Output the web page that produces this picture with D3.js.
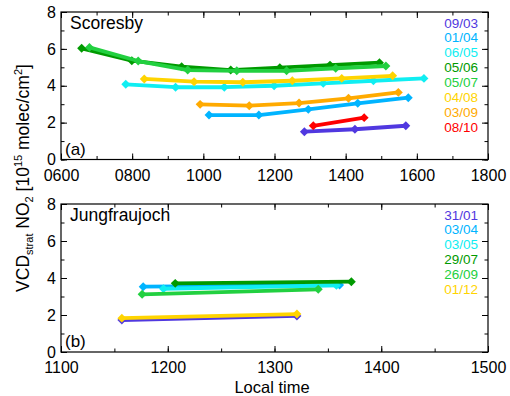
<!DOCTYPE html>
<html>
<head>
<meta charset="utf-8">
<script src="https://cdn.jsdelivr.net/npm/d3@7"></script>
<style>
  html, body { margin: 0; padding: 0; background: #fff; }
  svg { display: block; font-family: "Liberation Sans", Arial, Helvetica, sans-serif; }
</style>
</head>
<body>
<svg id="chart" width="510" height="396"></svg>
<script>
// Stratospheric NO2 vertical column vs. local time, two stations.

// --- Scoresby (panel a) ---
const scoresbyDates = ["09/03", "01/04", "06/05", "05/06", "05/07", "04/08", "03/09", "08/10"];
const scoresbyColors = ["#5038e0", "#00b4ff", "#10eef2", "#009a00", "#22d040", "#ffd400", "#ffaa00", "#ff0000"];
const scoresbyTimes = [
  [1284, 1426, 1569],
  [1016, 1156, 1295, 1434, 1576],
  [782, 922, 1059, 1199, 1337, 1478, 1620],
  [658, 799, 939, 1077, 1215, 1356, 1495],
  [680, 817, 956, 1094, 1234, 1372, 1513],
  [834, 974, 1111, 1250, 1389, 1532],
  [991, 1129, 1269, 1408, 1548],
  [1309, 1452]
];
const scoresbyVcd = [
  [1.51, 1.64, 1.83],
  [2.41, 2.41, 2.72, 3.05, 3.35],
  [4.08, 3.92, 3.92, 4.00, 4.13, 4.27, 4.40],
  [6.03, 5.36, 5.03, 4.85, 4.98, 5.12, 5.25],
  [6.08, 5.34, 4.85, 4.81, 4.81, 4.95, 5.07],
  [4.37, 4.22, 4.19, 4.27, 4.40, 4.54],
  [2.99, 2.92, 3.06, 3.32, 3.64],
  [1.83, 2.27]
];

// --- Jungfraujoch (panel b) ---
const jungDates = ["31/01", "03/04", "03/05", "29/07", "26/09", "01/12"];
const jungColors = ["#5038e0", "#00b4ff", "#10eef2", "#009a00", "#22d040", "#ffd400"];
const jungTimes = [
  [1157, 1321],
  [1177, 1361],
  [1196, 1358],
  [1207, 1372],
  [1176, 1341],
  [1157, 1321]
];
const jungVcd = [
  [1.73, 1.95],
  [3.53, 3.62],
  [3.42, 3.60],
  [3.71, 3.80],
  [3.12, 3.39],
  [1.83, 2.05]
];

// axis tick values
const yTicks = [0, 2, 4, 6, 8];
const scoresbyXTicks = [600, 800, 1000, 1200, 1400, 1600, 1800];
const jungXTicks = [1100, 1200, 1300, 1400, 1500];

const svg = d3.select("#chart");
const fmtTime = d3.format("04d");
const FONT = "Liberation Sans, Arial, sans-serif";

function drawPanel(opts) {
  const x = d3.scaleLinear().domain(opts.xDomain).range([61, 488]);
  const y = d3.scaleLinear().domain([0, 8]).range([opts.bottom, opts.top]);
  const g = svg.append("g");

  // frame
  g.append("rect")
    .attr("x", 61).attr("y", opts.top)
    .attr("width", 488 - 61).attr("height", opts.bottom - opts.top)
    .attr("fill", "none").attr("stroke", "#000").attr("stroke-width", 1.2);

  const majorLen = 6, minorLen = 3.5;

  function ticks(axisFn, scale, tv, len, transform) {
    const a = axisFn(scale).tickValues(tv).tickSizeInner(-len).tickSizeOuter(0).tickFormat("");
    const ag = g.append("g").attr("transform", transform).call(a);
    ag.select(".domain").remove();
    ag.selectAll(".tick line").attr("stroke", "#000").attr("stroke-width", 1);
  }

  // minor ticks on all four sides
  const xMinor = d3.range(opts.xDomain[0], opts.xDomain[1] + 1, opts.xMinorStep);
  const yMinor = d3.range(0, 9, 1);
  ticks(d3.axisBottom, x, xMinor, minorLen, `translate(0,${opts.bottom})`);
  ticks(d3.axisTop, x, xMinor, minorLen, `translate(0,${opts.top})`);
  ticks(d3.axisLeft, y, yMinor, minorLen, `translate(61,0)`);
  ticks(d3.axisRight, y, yMinor, minorLen, `translate(488,0)`);

  // major ticks, labelled on bottom and left
  const bx = d3.axisBottom(x).tickValues(opts.xTicks).tickSizeInner(-majorLen).tickSizeOuter(0)
    .tickPadding(10).tickFormat(fmtTime);
  const bxg = g.append("g").attr("transform", `translate(0,${opts.bottom})`).call(bx);
  bxg.select(".domain").remove();
  bxg.selectAll(".tick line").attr("stroke", "#000");
  bxg.selectAll("text").attr("font-size", 16).attr("fill", "#000").style("font-family", FONT);

  ticks(d3.axisTop, x, opts.xTicks, majorLen, `translate(0,${opts.top})`);

  const ly = d3.axisLeft(y).tickValues(yTicks).tickSizeInner(-majorLen).tickSizeOuter(0)
    .tickPadding(5).tickFormat(d3.format("d"));
  const lyg = g.append("g").attr("transform", "translate(61,0)").call(ly);
  lyg.select(".domain").remove();
  lyg.selectAll(".tick line").attr("stroke", "#000");
  lyg.selectAll("text").attr("font-size", 16).attr("fill", "#000").style("font-family", FONT);

  ticks(d3.axisRight, y, yTicks, majorLen, `translate(488,0)`);

  // series: thick line plus diamond markers
  const line = d3.line().x(d => x(d[0])).y(d => y(d[1]));
  const diamond = d3.symbol().type(d3.symbolSquare).size(40);
  opts.times.forEach((ts, i) => {
    const pts = ts.map((t, j) => [t, opts.values[i][j]]);
    const sg = g.append("g");
    sg.append("path").datum(pts)
      .attr("d", line)
      .attr("fill", "none")
      .attr("stroke", opts.colors[i])
      .attr("stroke-width", 3.8)
      .attr("stroke-linejoin", "round");
    sg.selectAll("path.pt").data(pts).enter().append("path")
      .attr("class", "pt")
      .attr("d", diamond)
      .attr("transform", d => `translate(${x(d[0])},${y(d[1])}) rotate(45)`)
      .attr("fill", opts.colors[i]);
  });

  // legend
  opts.dates.forEach((d, i) => {
    g.append("text")
      .attr("x", 478).attr("y", opts.top + 15.5 + i * 14.9)
      .attr("text-anchor", "end")
      .attr("font-size", 13.5)
      .attr("fill", opts.colors[i])
      .text(d);
  });

  // station name and panel tag
  g.append("text").attr("x", 70).attr("y", opts.top + 17)
    .attr("font-size", 17.5).attr("fill", "#000").text(opts.name);
  g.append("text").attr("x", 65).attr("y", opts.bottom - 5)
    .attr("font-size", 17).attr("fill", "#000").text(opts.tag);
}

drawPanel({
  name: "Scoresby", tag: "(a)",
  top: 12, bottom: 159.5,
  xDomain: [600, 1800], xTicks: scoresbyXTicks, xMinorStep: 100,
  times: scoresbyTimes, values: scoresbyVcd, colors: scoresbyColors, dates: scoresbyDates
});

drawPanel({
  name: "Jungfraujoch", tag: "(b)",
  top: 204, bottom: 352,
  xDomain: [1100, 1500], xTicks: jungXTicks, xMinorStep: 50,
  times: jungTimes, values: jungVcd, colors: jungColors, dates: jungDates
});

// x axis title
svg.append("text")
  .attr("x", 272).attr("y", 393)
  .attr("text-anchor", "middle")
  .attr("font-size", 16.5).attr("fill", "#000")
  .text("Local time");

// y axis title with sub/superscripts
const yt = svg.append("text")
  .attr("transform", "translate(29,178) rotate(-90)")
  .attr("text-anchor", "middle")
  .attr("font-size", 17.5).attr("fill", "#000");
yt.append("tspan").text("VCD");
yt.append("tspan").attr("font-size", 11).attr("dy", 4).text("strat");
yt.append("tspan").attr("dy", -4).text(" NO");
yt.append("tspan").attr("font-size", 11).attr("dy", 4).text("2");
yt.append("tspan").attr("dy", -4).text(" [10");
yt.append("tspan").attr("font-size", 11).attr("dy", -7).text("15");
yt.append("tspan").attr("dy", 7).text(" molec/cm");
yt.append("tspan").attr("font-size", 11).attr("dy", -7).text("2");
yt.append("tspan").attr("dy", 7).text("]");
</script>
</body>
</html>
